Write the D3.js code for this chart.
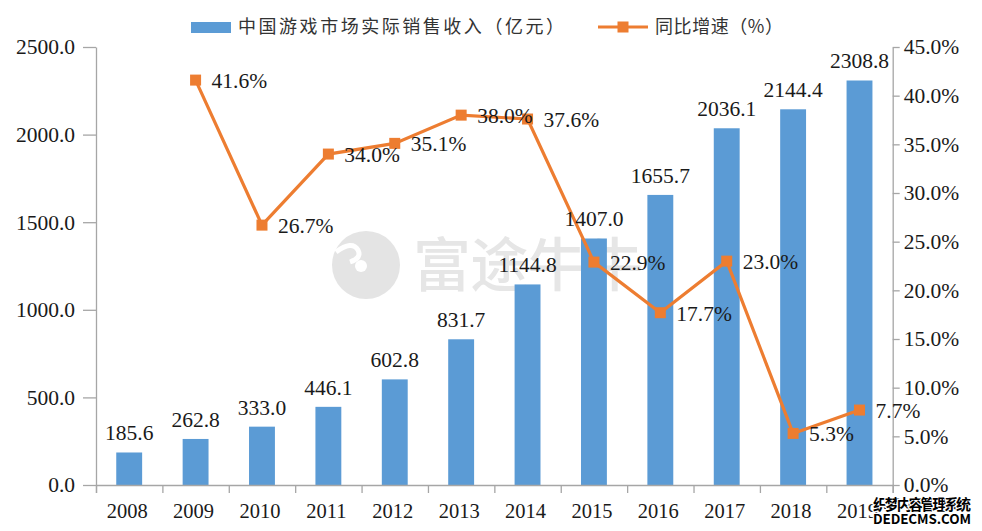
<!DOCTYPE html>
<html>
<head>
<meta charset="utf-8">
<script src="https://cdn.jsdelivr.net/npm/d3@7/dist/d3.min.js"></script>
<style>
    body { margin: 0; background: #fff; }
    text { font-family: "Liberation Serif", serif; fill: #1a1a1a; }
    .cjk { font-family: "Noto Sans CJK SC", sans-serif; }
</style>
</head>
<body>
<div class="chart"></div>
<script>
const years = ["2008", "2009", "2010", "2011", "2012", "2013", "2014", "2015", "2016", "2017", "2018", "2019"];
const revenue = [185.6, 262.8, 333.0, 446.1, 602.8, 831.7, 1144.8, 1407.0, 1655.7, 2036.1, 2144.4, 2308.8];
const growth = [null, 41.6, 26.7, 34.0, 35.1, 38.0, 37.6, 22.9, 17.7, 23.0, 5.3, 7.7];
const revenueTicks = [0, 500, 1000, 1500, 2000, 2500];
const growthTicks = [0, 5, 10, 15, 20, 25, 30, 35, 40, 45];
const barName = "中国游戏市场实际销售收入（亿元）";
const lineName = "同比增速（%）";

const width = 982;
const height = 531;
const plotLeft = 96, plotRight = 892.7, plotTop = 47, plotBottom = 485;
const fontSize = 21.5;
const axisColor = "#a6a6a6";
const blue = "#5b9bd5";
const orange = "#ed7d31";

const svg = d3.select(".chart")
    .append("svg")
    .attr("width", width)
    .attr("height", height)
    .style("display", "block");

const x = d3.scaleBand().domain(years).range([plotLeft, plotRight]).paddingInner(0.61).paddingOuter(0.305);
const yLeft = d3.scaleLinear().domain([0, 2500]).range([plotBottom, plotTop]);
const yRight = d3.scaleLinear().domain([0, 45]).range([plotBottom, plotTop]);
const cx = d => x(d) + x.bandwidth() / 2;

// watermark sits behind everything
const mark = svg.append("g");
mark.append("circle").attr("cx", 366).attr("cy", 265).attr("r", 34).attr("fill", "#e4e4e4");
mark.append("path").attr("d", "M336 252 Q352 240 358 250 Q362 258 350 262").attr("fill", "none")
    .attr("stroke", "#fff").attr("stroke-width", 5);
mark.append("circle").attr("cx", 361).attr("cy", 266).attr("r", 6).attr("fill", "#fff");
mark.append("text").attr("class", "cjk").attr("x", 413).attr("y", 286)
    .attr("font-size", 58).attr("font-weight", 500).attr("textLength", 230).style("fill", "#e6e6e6").text("富途牛牛");

svg.selectAll(".bar")
    .data(revenue)
    .enter().append("rect")
    .attr("class", "bar")
    .attr("x", (d, i) => x(years[i]))
    .attr("y", d => yLeft(d))
    .attr("width", x.bandwidth())
    .attr("height", d => plotBottom - yLeft(d))
    .attr("fill", blue);

// axes
const band = d3.scaleLinear().domain([0, years.length]).range([plotLeft, plotRight]);
const xAxis = svg.append("g").attr("transform", `translate(0,${plotBottom})`)
    .call(d3.axisBottom(band).tickValues(d3.range(0, years.length + 1)).tickSizeOuter(0).tickSize(8).tickFormat(""));
const leftAxis = svg.append("g").attr("transform", `translate(${plotLeft},0)`)
    .call(d3.axisLeft(yLeft).tickValues(revenueTicks).tickSize(13).tickSizeOuter(0).tickPadding(8).tickFormat(d3.format(".1f")));
const rightAxis = svg.append("g").attr("transform", `translate(${plotRight},0)`)
    .call(d3.axisRight(yRight).tickValues(growthTicks).tickSize(7).tickSizeOuter(0).tickPadding(4).tickFormat(d => d.toFixed(1) + "%"));
[xAxis, leftAxis, rightAxis].forEach(a => {
    a.attr("font-family", null);
    a.selectAll("path, line").attr("stroke", axisColor).attr("stroke-width", 1.3);
    a.selectAll("text").style("font-size", fontSize + "px").style("fill", "#1a1a1a");
});

svg.selectAll(".year")
    .data(years)
    .enter().append("text")
    .attr("class", "year")
    .attr("x", d => cx(d) - 2)
    .attr("y", 518)
    .attr("text-anchor", "middle")
    .attr("font-size", 20.5)
    .text(d => d);

// growth line
const points = years.map((year, i) => ({ year, v: growth[i] })).filter(d => d.v !== null);
const line = d3.line()
    .x(d => cx(d.year))
    .y(d => yRight(d.v));

svg.append("path")
    .datum(points)
    .attr("d", line)
    .attr("fill", "none")
    .attr("stroke", orange)
    .attr("stroke-width", 3.2);

svg.selectAll(".pt")
    .data(points)
    .enter().append("rect")
    .attr("class", "pt")
    .attr("x", d => cx(d.year) - 5.5)
    .attr("y", d => yRight(d.v) - 5.5)
    .attr("width", 11)
    .attr("height", 11)
    .attr("fill", orange);

// bar labels
svg.selectAll(".barLabel")
    .data(revenue)
    .enter().append("text")
    .attr("class", "barLabel")
    .attr("x", (d, i) => cx(years[i]))
    .attr("y", d => yLeft(d) - 12)
    .attr("text-anchor", "middle")
    .attr("font-size", fontSize)
    .text(d => d.toFixed(1));

// line labels, right of each marker
svg.selectAll(".lineLabel")
    .data(points)
    .enter().append("text")
    .attr("class", "lineLabel")
    .attr("x", d => cx(d.year) + 16)
    .attr("y", d => yRight(d.v) + 8)
    .attr("font-size", fontSize)
    .text(d => d.v.toFixed(1) + "%");

// legend
svg.append("rect").attr("x", 191).attr("y", 22).attr("width", 40).attr("height", 11).attr("fill", blue);
svg.append("text").attr("class", "cjk").attr("x", 238).attr("y", 33)
    .attr("font-size", 18).attr("textLength", 326).style("fill", "#333").text(barName);
svg.append("line").attr("x1", 598).attr("x2", 648).attr("y1", 27).attr("y2", 27)
    .attr("stroke", orange).attr("stroke-width", 3.2);
svg.append("rect").attr("x", 617.5).attr("y", 21.5).attr("width", 11).attr("height", 11).attr("fill", orange);
svg.append("text").attr("class", "cjk").attr("x", 655).attr("y", 33)
    .attr("font-size", 18).attr("textLength", 128).style("fill", "#333").text(lineName);

// site stamp, bottom right
[["织梦内容管理系统", 510, 15], ["DEDECMS.COM", 524, 13.5]].forEach(([t, y, s]) => {
    svg.append("text").attr("x", 873).attr("y", y).attr("font-size", s).attr("font-weight", 700)
        .attr("textLength", 98).attr("class", "cjk").style("fill", "#000")
        .attr("stroke", "#fff").attr("stroke-width", 2.5).attr("paint-order", "stroke").text(t);
});
</script>
</body>
</html>
